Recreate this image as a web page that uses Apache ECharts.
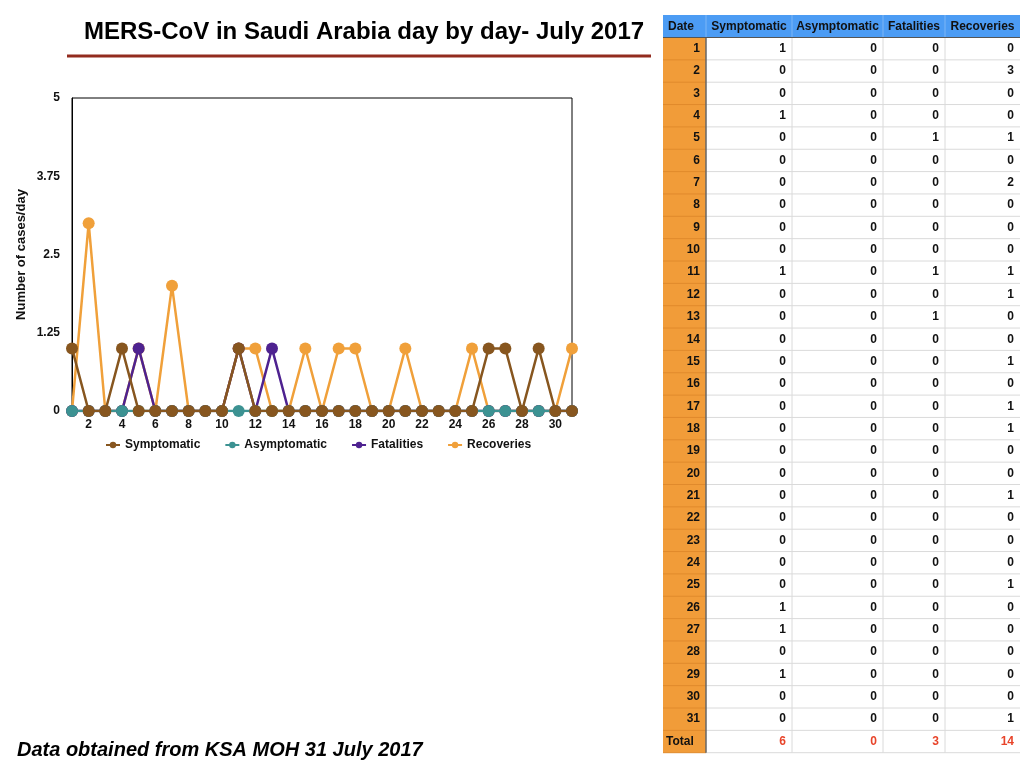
<!DOCTYPE html>
<html>
<head>
<meta charset="utf-8">
<script src="https://cdn.jsdelivr.net/npm/echarts@6/dist/echarts.min.js"></script>
<style>
html,body{margin:0;padding:0;background:#fff;}
#chart{width:1024px;height:768px;}
</style>
</head>
<body>
<div id="chart"></div>
<script>
var days = ['1','2','3','4','5','6','7','8','9','10','11','12','13','14','15','16','17','18','19','20','21','22','23','24','25','26','27','28','29','30','31'];
var symptomatic  = [1,0,0,1,0,0,0,0,0,0,1,0,0,0,0,0,0,0,0,0,0,0,0,0,0,1,1,0,1,0,0];
var asymptomatic = [0,0,0,0,0,0,0,0,0,0,0,0,0,0,0,0,0,0,0,0,0,0,0,0,0,0,0,0,0,0,0];
var fatalities   = [0,0,0,0,1,0,0,0,0,0,1,0,1,0,0,0,0,0,0,0,0,0,0,0,0,0,0,0,0,0,0];
var recoveries   = [0,3,0,0,1,0,2,0,0,0,1,1,0,0,1,0,1,1,0,0,1,0,0,0,1,0,0,0,0,0,1];
var seriesNames = ['Symptomatic','Asymptomatic','Fatalities','Recoveries'];
var yTicks = ['0','1.25','2.5','3.75','5'];
var tableHeaders = ['Date','Symptomatic','Asymptomatic','Fatalities','Recoveries'];

var colors = ['#87561F','#3C9292','#4E2290','#F0A03A'];
var FONT = '"Liberation Sans", Arial, Helvetica, sans-serif';

function sum(a){return a.reduce(function(s,v){return s+v;},0);}

// ---------- table as graphic ----------
var colX = [663, 706, 792, 883, 945, 1020];
var headTop = 15, headBot = 37.5, rowH = 22.35;
var g = [];
g.push({type:'rect', shape:{x:colX[0], y:headTop, width:colX[5]-colX[0], height:headBot-headTop}, style:{fill:'#4C9CF4'}});
var bodyBot = headBot + rowH*32;
g.push({type:'rect', shape:{x:colX[0], y:headBot, width:colX[1]-colX[0], height:bodyBot-headBot}, style:{fill:'#F19C39'}});
for (var r=1; r<=32; r++){
  var yy = headBot + rowH*r;
  g.push({type:'line', shape:{x1:colX[1], y1:yy, x2:colX[5], y2:yy}, style:{stroke:'#DADADA', lineWidth:1}});
  g.push({type:'line', shape:{x1:colX[0], y1:yy, x2:colX[1], y2:yy}, style:{stroke:'#E08A2C', lineWidth:1}});
}
for (var c=2; c<5; c++){
  g.push({type:'line', shape:{x1:colX[c], y1:headBot, x2:colX[c], y2:bodyBot}, style:{stroke:'#DADADA', lineWidth:1}});
  g.push({type:'line', shape:{x1:colX[c], y1:headTop, x2:colX[c], y2:headBot}, style:{stroke:'#7DB6F6', lineWidth:1}});
}
g.push({type:'line', shape:{x1:colX[1], y1:headTop, x2:colX[1], y2:headBot}, style:{stroke:'#7DB6F6', lineWidth:1}});
g.push({type:'line', shape:{x1:colX[1], y1:headBot, x2:colX[1], y2:bodyBot}, style:{stroke:'#666', lineWidth:1.5}});
g.push({type:'line', shape:{x1:colX[0], y1:headBot, x2:colX[5], y2:headBot}, style:{stroke:'#555', lineWidth:1.2}});
for (var h=0; h<5; h++){
  g.push({type:'text', style:{text:tableHeaders[h], x:(h===0?colX[0]+5:(colX[h]+colX[h+1])/2), y:(headTop+headBot)/2, textAlign:(h===0?'left':'center'), textVerticalAlign:'middle', font:'bold 12px '+FONT, fill:'#111'}});
}
var cols = [symptomatic, asymptomatic, fatalities, recoveries];
for (var i=0; i<days.length; i++){
  var cy = headBot + rowH*i + rowH/2;
  g.push({type:'text', style:{text:days[i], x:colX[1]-6, y:cy, textAlign:'right', textVerticalAlign:'middle', font:'bold 12px '+FONT, fill:'#111'}});
  for (var k=0; k<4; k++){
    g.push({type:'text', style:{text:String(cols[k][i]), x:colX[k+2]-6, y:cy, textAlign:'right', textVerticalAlign:'middle', font:'bold 12px '+FONT, fill:'#111'}});
  }
}
var ty = headBot + rowH*31 + rowH/2;
g.push({type:'text', style:{text:'Total', x:colX[0]+3, y:ty, textAlign:'left', textVerticalAlign:'middle', font:'bold 12px '+FONT, fill:'#111'}});
for (var k2=0; k2<4; k2++){
  g.push({type:'text', style:{text:String(sum(cols[k2])), x:colX[k2+2]-6, y:ty, textAlign:'right', textVerticalAlign:'middle', font:'bold 12px '+FONT, fill:'#E8442A'}});
}
g.push({type:'line', shape:{x1:67, y1:56, x2:651, y2:56}, style:{stroke:'#922B1E', lineWidth:3}});
g.push({type:'text', style:{text:'Data obtained from KSA MOH 31 July 2017', x:17, y:750, textAlign:'left', textVerticalAlign:'middle', font:'italic bold 20px '+FONT, fill:'#000'}});

var chart = echarts.init(document.getElementById('chart'));
var dataArr = [symptomatic, asymptomatic, fatalities, recoveries];
var zs = [5,4,3,2];
var series = seriesNames.map(function(n, idx){
  return {
    name:n, type:'line', data:dataArr[idx], z:zs[idx],
    symbol:'circle', symbolSize:12, showAllSymbol:true,
    lineStyle:{color:colors[idx], width:2.5},
    itemStyle:{color:colors[idx]},
    emphasis:{disabled:true},
    animation:false
  };
});
chart.setOption({
  animation:false,
  title:{text:'MERS-CoV in Saudi Arabia day by day- July 2017', left:359, top:15, textAlign:'center',
    textStyle:{fontFamily:FONT, fontWeight:'bold', fontSize:24, color:'#000'}},
  legend:{data:seriesNames, top:434, left:100, itemWidth:14, itemHeight:8, itemGap:24,
    textStyle:{fontFamily:FONT, fontWeight:'bold', fontSize:12, color:'#111'}},
  grid:{left:72, right:452, top:98, bottom:357, show:true, borderColor:'#000', borderWidth:1},
  xAxis:{type:'category', data:days, boundaryGap:false,
    axisLine:{show:false}, axisTick:{show:false},
    axisLabel:{interval:function(i){return i%2===1;}, fontFamily:FONT, fontWeight:'bold', fontSize:12, color:'#111', margin:8}},
  yAxis:{type:'value', min:0, max:5, interval:1.25,
    name:'Number of cases/day', nameLocation:'middle', nameGap:44, nameRotate:90,
    nameTextStyle:{fontFamily:FONT, fontWeight:'bold', fontSize:13, color:'#111'},
    axisLine:{show:true, lineStyle:{color:'#000'}}, axisTick:{show:false}, splitLine:{show:false},
    axisLabel:{formatter:function(v){var idx=Math.round(v/1.25);return yTicks[idx]!==undefined?yTicks[idx]:'';}, fontFamily:FONT, fontWeight:'bold', fontSize:12, color:'#111', margin:12}},
  series:series,
  graphic:g
});
</script>
</body>
</html>
